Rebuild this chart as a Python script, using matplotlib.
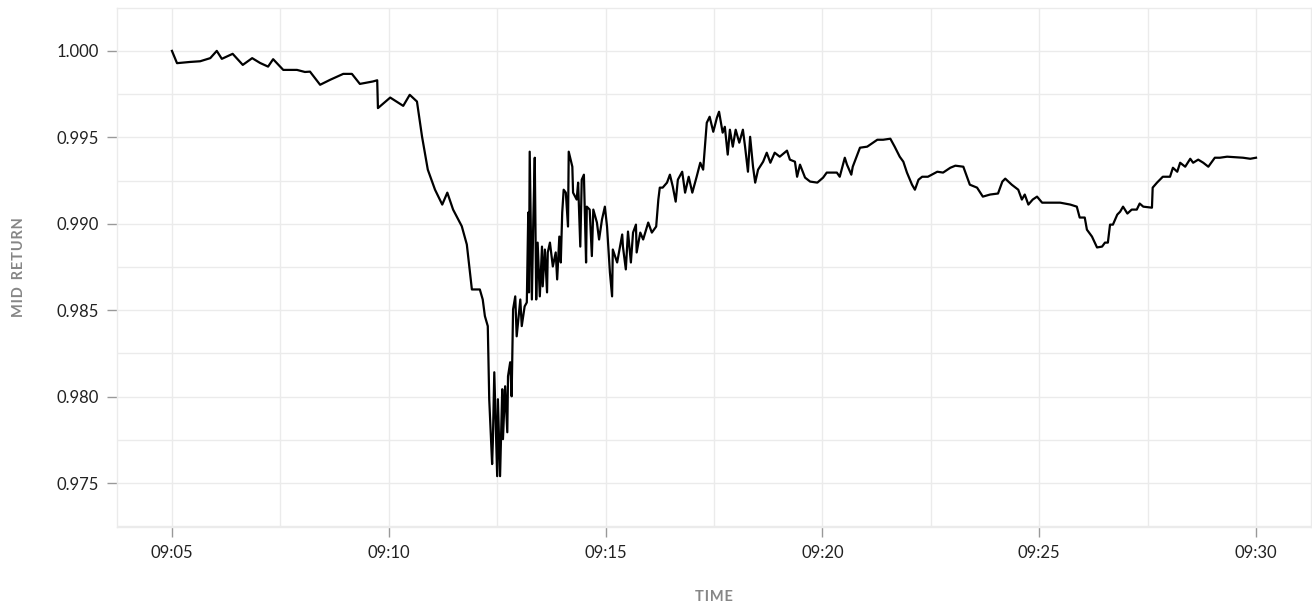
import matplotlib
matplotlib.use("Agg")
import matplotlib.pyplot as plt
import matplotlib.dates as mdates
from matplotlib.ticker import MultipleLocator, AutoMinorLocator, FormatStrFormatter
import pandas as pd

# seconds after 09:05:00 and mid return
secs = [
    0, 7, 25, 39, 53, 62, 69, 84, 98, 111, 122, 133, 140, 154, 173, 184, 191,
    205, 219, 237, 249, 260, 278, 284, 285, 302, 320, 329, 339, 346, 354, 364,
    374, 381, 389, 401, 408, 415, 426, 430, 433, 437, 439, 443, 444, 446, 450,
    451, 454, 457, 458, 461, 464, 465, 468, 470, 472, 475, 477, 482, 484, 488,
    491, 493, 494, 495, 498, 500, 502, 504, 506, 509, 512, 513, 516, 519, 520,
    523, 527, 531, 533, 536, 538, 540, 542, 545, 548, 549, 554, 555, 560, 562,
    565, 567, 570, 573, 574, 578, 581, 583, 588, 591, 595, 599, 602, 606, 609,
    610, 616, 623, 624, 628, 631, 635, 638, 642, 643, 648, 652, 659, 664, 670,
    673, 675, 679, 685, 689, 693, 697, 700, 706, 710, 715, 720, 726, 731, 735,
    740, 744, 749, 754, 757, 762, 765, 769, 772, 776, 780, 785, 790, 793, 797,
    800, 804, 807, 811, 818, 823, 828, 834, 841, 851, 855, 862, 865, 869, 876,
    883, 893, 901, 906, 920, 924, 931, 934, 940, 942, 952, 962, 976, 984, 994,
    1000, 1007, 1012, 1017, 1024, 1028, 1033, 1038, 1046, 1059, 1067, 1077,
    1084, 1095, 1100, 1104, 1114, 1122, 1132, 1143, 1149, 1153, 1162, 1171,
    1176, 1180, 1185, 1191, 1197, 1204, 1215, 1229, 1243, 1252, 1256, 1263,
    1266, 1273, 1280, 1287, 1291, 1295, 1298, 1302, 1308, 1312, 1316, 1322,
    1328, 1335, 1339, 1344, 1356, 1357, 1363, 1370, 1371, 1381, 1385, 1391,
    1395, 1402, 1409, 1413, 1420, 1427, 1434, 1443, 1450, 1460, 1482, 1492,
    1500,
]
mid_return = [
    1.0000, 0.99929, 0.99936, 0.99940, 0.99958, 1.0000, 0.99954, 0.99983,
    0.99919, 0.99958, 0.99930, 0.99909, 0.99952, 0.99890, 0.99890, 0.99878,
    0.99880, 0.99804, 0.99833, 0.99867, 0.99867, 0.99809, 0.99823, 0.99830,
    0.99669, 0.99730, 0.99682, 0.99746, 0.99707, 0.99505, 0.99313, 0.99197,
    0.99111, 0.99180, 0.99082, 0.98986, 0.98880, 0.98620, 0.98620, 0.98562,
    0.98466, 0.98408, 0.97985, 0.97610, 0.97737, 0.98141, 0.97540, 0.97985,
    0.97540, 0.98043, 0.97754, 0.98060, 0.97794, 0.98118, 0.98199, 0.98002,
    0.98505, 0.98580, 0.98349, 0.98562, 0.98408, 0.98522, 0.98545, 0.99065,
    0.98603, 0.99417, 0.98562, 0.99024, 0.99382, 0.98562, 0.98891, 0.98580,
    0.98868, 0.98638, 0.98851, 0.98603, 0.98834, 0.98891, 0.98753, 0.98834,
    0.98678, 0.98926, 0.98776, 0.99065, 0.99197, 0.99180, 0.98984, 0.99417,
    0.99330, 0.99180, 0.99140, 0.99238, 0.98868, 0.99255, 0.99284, 0.98776,
    0.99099, 0.99082, 0.98813, 0.99082, 0.99007, 0.98909, 0.99024, 0.99099,
    0.98984, 0.98718, 0.98580, 0.98851, 0.98776, 0.98938, 0.98868, 0.98736,
    0.98955, 0.98776, 0.98949, 0.98995, 0.98834, 0.98949, 0.98909, 0.99007,
    0.98949, 0.98984, 0.99140, 0.99209, 0.99209, 0.99238, 0.99284, 0.99215,
    0.99128, 0.99255, 0.99301, 0.99180, 0.99272, 0.99180, 0.99272, 0.99353,
    0.99313, 0.99584, 0.99619, 0.99532, 0.99613, 0.99648, 0.99527, 0.99561,
    0.99400, 0.99544, 0.99446, 0.99544, 0.99469, 0.99544, 0.99446, 0.99301,
    0.99503, 0.99330, 0.99238, 0.99313, 0.99359, 0.99411, 0.99353, 0.99411,
    0.99388, 0.99423, 0.99371, 0.99359, 0.99272, 0.99342, 0.99267, 0.99244,
    0.99238, 0.99267, 0.99296, 0.99296, 0.99272, 0.99382, 0.99342, 0.99284,
    0.99330, 0.99440, 0.99446, 0.99486, 0.99486, 0.99492, 0.99446, 0.99388,
    0.99359, 0.99296, 0.99226, 0.99197, 0.99255, 0.99272, 0.99272, 0.99301,
    0.99296, 0.99324, 0.99336, 0.99330, 0.99272, 0.99226, 0.99209, 0.99157,
    0.99169, 0.99175, 0.99244, 0.99261, 0.99226, 0.99197, 0.99140, 0.99169,
    0.99111, 0.99140, 0.99157, 0.99122, 0.99122, 0.99122, 0.99111, 0.99099,
    0.99036, 0.99036, 0.98966, 0.98926, 0.98863, 0.98868, 0.98891, 0.98891,
    0.98995, 0.98995, 0.99053, 0.99070, 0.99099, 0.99059, 0.99082, 0.99082,
    0.99117, 0.99099, 0.99093, 0.99209, 0.99238, 0.99267, 0.99272, 0.99272,
    0.99324, 0.99301, 0.99353, 0.99330, 0.99376, 0.99353, 0.99371, 0.99353,
    0.99330, 0.99382, 0.99382, 0.99388, 0.99382, 0.99376, 0.99382,
]

start = pd.Timestamp("2024-01-02 09:05:00")
times = start + pd.to_timedelta(secs, unit="s")

plt.rcParams['font.family'] = ['Lato', 'DejaVu Sans']

fig = plt.figure(figsize=(13.12, 6.07), dpi=100)
ax = fig.add_axes([0.0892, 0.1318, 0.9100, 0.8550])

grid_col = '#ebebeb'
ax.plot(times, mid_return, color='black', lw=1.6, zorder=3)

ax.set_xlim(start - pd.Timedelta(seconds=76), start + pd.Timedelta(seconds=1576))
ax.set_ylim(0.97246, 1.00248)

ax.xaxis.set_major_locator(mdates.MinuteLocator(byminute=range(0, 60, 5)))
ax.xaxis.set_major_formatter(mdates.DateFormatter('%H:%M'))
ax.xaxis.set_minor_locator(AutoMinorLocator(2))
ax.yaxis.set_major_locator(MultipleLocator(0.005))
ax.yaxis.set_minor_locator(MultipleLocator(0.0025))
ax.yaxis.set_major_formatter(FormatStrFormatter('%.3f'))

ax.grid(True, which='both', color=grid_col, lw=1.0, zorder=0)
ax.set_axisbelow(True)
for s in ax.spines.values():
    s.set_color(grid_col)
    s.set_linewidth(1.0)

ax.tick_params(which='major', length=7, width=1, color='#999999',
               labelsize=12, labelcolor='#222222', pad=6)
ax.tick_params(which='minor', length=0)

hs = '\u200a'
ax.set_xlabel(hs.join('TIME'), fontsize=10.5, fontweight='bold',
              color='#868686', labelpad=21)
ax.set_ylabel(hs.join('MID') + '  ' + hs.join('RETURN'), fontsize=10.5,
              fontweight='bold', color='#868686', labelpad=22)

fig.savefig('out.png', dpi=100)
